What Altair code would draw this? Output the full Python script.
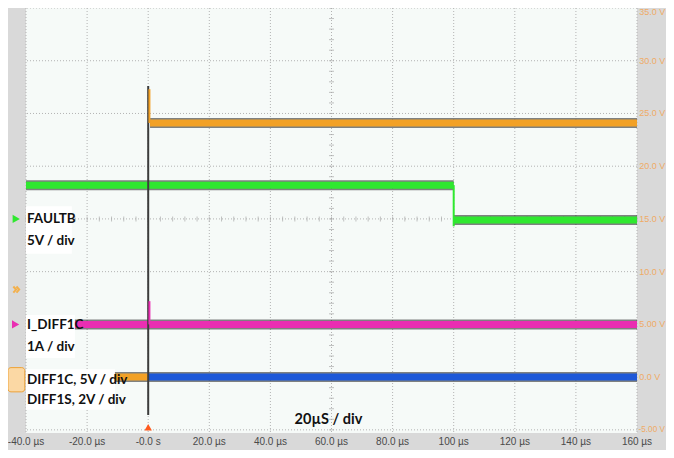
import altair as alt
import pandas as pd

# ---------------- axis ticks ----------------
x_ticks = [-40, -20, 0, 20, 40, 60, 80, 100, 120, 140, 160]
x_tick_labels = ["-40.0 µs", "-20.0 µs", "-0.0 s", "20.0 µs", "40.0 µs", "60.0 µs",
                 "80.0 µs", "100 µs", "120 µs", "140 µs", "160 µs"]
y_ticks = [-5, 0, 5, 10, 15, 20, 25, 30, 35]
y_tick_labels = ["-5.00 V", "0.0 V", "5.00 V", "10.0 V", "15.0 V", "20.0 V",
                 "25.0 V", "30.0 V", "35.0 V"]

# ---------------- channels ----------------
channel_names = ["orange", "green", "magenta", "blue", "trigger"]
channel_colors = ["#f2a126", "#2fe82f", "#ea2eb2", "#1d58d8", "#3c3c3c"]

# steady levels of each trace (µs start, µs end, volts)
seg_channel = ["orange", "orange", "green", "green", "magenta", "blue"]
seg_t0 = [-40, 0.6, -40, 100, -40, 0]
seg_t1 = [0, 160, 100, 160, 160, 160]
seg_v = [0.0, 24.1, 18.2, 14.9, 5.0, 0.0]

# transitions / spikes (thin vertical strokes)
edge_channel = ["trigger", "orange", "green", "magenta"]
edge_t = [0, 0.4, 100, 0.4]
edge_v0 = [-3.6, 24.1, 18.2, 5.0]
edge_v1 = [27.6, 27.3, 14.3, 7.2]

# channel annotations
lbl_text = ["FAULTB", "5V / div", "I_DIFF1C", "1A / div", "DIFF1C, 5V / div", "DIFF1S, 2V / div"]
lbl_t = [-39.7, -39.7, -39.7, -39.7, -39.7, -39.7]
lbl_v = [15.0, 12.9, 4.95, 2.87, -0.26, -2.16]
box_t0 = [-40, -40, -40]
box_t1 = [-25, -24, -10.9]
box_v0 = [16.2, 5.9, 0.75]
box_v1 = [11.7, 1.8, -3.1]

timebase_text = ["20µS / div"]
timebase_t = [59]
timebase_v = [-4.1]

# left-side channel markers
marker_kind = ["green", "magenta"]
marker_t = [-43.2, -43.4]
marker_v = [15.0, 5.0]
trig_level_v = [8.3]
trig_pos_t = [0]

BOLD_FONT = "Lato, Liberation Sans, sans-serif"
AXIS_FONT = "Liberation Sans, Arial, sans-serif"

X_SCALE = alt.Scale(domain=[-40, 160], nice=False, zero=False)
Y_SCALE = alt.Scale(domain=[-5.3, 35], nice=False, zero=False)
color_scale = alt.Scale(domain=channel_names, range=channel_colors)

NOAX = dict(axis=None)

# ---------------- graticule ----------------
vgrid = alt.Chart(pd.DataFrame({"t": x_ticks})).mark_rule(
    color="#b3b3b3", strokeDash=[1, 2], strokeWidth=1).encode(
    x=alt.X("t:Q", scale=X_SCALE, **NOAX))
hgrid = alt.Chart(pd.DataFrame({"v": y_ticks})).mark_rule(
    color="#b3b3b3", strokeDash=[1, 2], strokeWidth=1).encode(
    y=alt.Y("v:Q", scale=Y_SCALE, **NOAX))

hticks = pd.DataFrame({"t": list(range(-40, 161, 4))})
vticks = pd.DataFrame({"v": list(range(-5, 36, 1))})
htick_layer = alt.Chart(hticks).mark_tick(orient="vertical", size=5, thickness=1, color="#a8a8a8").encode(
    x=alt.X("t:Q", **NOAX), y=alt.YDatum(15, **NOAX))
vtick_layer = alt.Chart(vticks).mark_tick(orient="horizontal", size=5, thickness=1, color="#a8a8a8").encode(
    y=alt.Y("v:Q", **NOAX), x=alt.XDatum(60, **NOAX))

# ---------------- axis labels ----------------
xl = pd.DataFrame({"t": x_ticks, "txt": x_tick_labels})
xlab_layer = alt.Chart(xl).mark_text(align="center", baseline="middle", font=AXIS_FONT, fontSize=10,
                                     color="#4a4a4a", clip=False).encode(
    x=alt.X("t:Q", **NOAX), y=alt.YDatum(-6.2, **NOAX), text="txt:N")

yl = pd.DataFrame({"v": y_ticks, "txt": y_tick_labels})
ylab_mid = alt.Chart(yl).transform_filter("datum.v > -5 && datum.v < 35").mark_text(
    align="left", baseline="middle", font=AXIS_FONT, fontSize=9, color="#efab66", clip=False).encode(
    y=alt.Y("v:Q", **NOAX), x=alt.XDatum(160.7, **NOAX), text="txt:N")
ylab_bot = alt.Chart(yl).transform_filter("datum.v <= -5").mark_text(
    align="left", baseline="middle", font=AXIS_FONT, fontSize=8.2, color="#efab66", clip=False).encode(
    y=alt.Y("v:Q", **NOAX), x=alt.XDatum(160.5, **NOAX), text="txt:N")
ylab_top = alt.Chart(yl).transform_filter("datum.v >= 35").mark_text(
    align="left", baseline="top", font=AXIS_FONT, fontSize=9, color="#efab66", clip=False).encode(
    y=alt.Y("v:Q", **NOAX), x=alt.XDatum(160.7, **NOAX), text="txt:N")

# ---------------- traces ----------------
segs = pd.DataFrame({"ch": seg_channel, "t": seg_t0, "t2": seg_t1, "v": seg_v})
seg_outline = alt.Chart(segs).mark_rule(strokeWidth=10, color="#1e1e1e", opacity=0.55, strokeCap="butt").encode(
    x=alt.X("t:Q", **NOAX), x2="t2:Q", y=alt.Y("v:Q", **NOAX))
seg_core = alt.Chart(segs).mark_rule(strokeWidth=7, strokeCap="butt").encode(
    x=alt.X("t:Q", **NOAX), x2="t2:Q", y=alt.Y("v:Q", **NOAX),
    color=alt.Color("ch:N", scale=color_scale, legend=None))

edges = pd.DataFrame({"ch": edge_channel, "t": edge_t, "v": edge_v0, "v2": edge_v1})
edge_layer = alt.Chart(edges).mark_rule(strokeWidth=2).encode(
    x=alt.X("t:Q", **NOAX), y=alt.Y("v:Q", **NOAX), y2="v2:Q",
    color=alt.Color("ch:N", scale=color_scale, legend=None))

# ---------------- annotations ----------------
boxes = pd.DataFrame({"t": box_t0, "t2": box_t1, "v": box_v0, "v2": box_v1})
box_layer = alt.Chart(boxes).mark_rect(color="#ffffff").encode(
    x=alt.X("t:Q", **NOAX), x2="t2:Q", y=alt.Y("v:Q", **NOAX), y2="v2:Q")

labels = pd.DataFrame({"txt": lbl_text, "t": lbl_t, "v": lbl_v})
label_layer = alt.Chart(labels).mark_text(align="left", baseline="middle", font=BOLD_FONT,
                                          fontSize=13.5, fontWeight="bold", color="#111111").encode(
    x=alt.X("t:Q", **NOAX), y=alt.Y("v:Q", **NOAX), text="txt:N")

tb = pd.DataFrame({"txt": timebase_text, "t": timebase_t, "v": timebase_v})
tb_layer = alt.Chart(tb).mark_text(align="center", baseline="middle", font=BOLD_FONT,
                                   fontSize=14.5, fontWeight="bold", color="#111111").encode(
    x=alt.X("t:Q", **NOAX), y=alt.Y("v:Q", **NOAX), text="txt:N")

markers = pd.DataFrame({"ch": marker_kind, "t": marker_t, "v": marker_v})
marker_layer = alt.Chart(markers).mark_point(shape="triangle-right", filled=True, size=70,
                                             opacity=1, clip=False).encode(
    x=alt.X("t:Q", **NOAX), y=alt.Y("v:Q", **NOAX),
    color=alt.Color("ch:N", scale=color_scale, legend=None))

chev = pd.DataFrame({"t": [-43.0], "v": trig_level_v})
chev_layer = alt.Chart(chev).mark_point(shape="M-0.9,-0.8L-0.2,0L-0.9,0.8M-0.1,-0.8L0.6,0L-0.1,0.8",
                                        filled=False, size=60, strokeWidth=2, color="#f3b04c",
                                        opacity=1, clip=False).encode(
    x=alt.X("t:Q", **NOAX), y=alt.Y("v:Q", **NOAX))

obox = pd.DataFrame({"t": [-45.9], "t2": [-40.4], "v": [0.9], "v2": [-1.4]})
obox_layer = alt.Chart(obox).mark_rect(fill="#fbd8a4", stroke="#eea236", strokeWidth=1,
                                       cornerRadius=3, clip=False).encode(
    x=alt.X("t:Q", **NOAX), x2="t2:Q", y=alt.Y("v:Q", **NOAX), y2="v2:Q")

trig = pd.DataFrame({"t": trig_pos_t, "v": [-4.75]})
trig_layer = alt.Chart(trig).mark_point(shape="triangle-up", filled=True, size=55, color="#ff5a1e",
                                        opacity=1).encode(
    x=alt.X("t:Q", **NOAX), y=alt.Y("v:Q", **NOAX))

chart = alt.layer(
    vgrid, hgrid, htick_layer, vtick_layer, xlab_layer, ylab_mid, ylab_bot, ylab_top,
    seg_outline, seg_core, edge_layer,
    box_layer, label_layer, tb_layer, marker_layer, chev_layer, obox_layer, trig_layer,
).properties(
    width=611, height=425,
    autosize=alt.AutoSizeParams(type="none"),
    padding={"left": 18, "top": 0, "right": 29, "bottom": 17},
    background="#d9d9d9",
).configure_view(fill="#f6faf8", stroke=None)

chart.save("out.html", embed_options={"renderer": "svg", "actions": False})
